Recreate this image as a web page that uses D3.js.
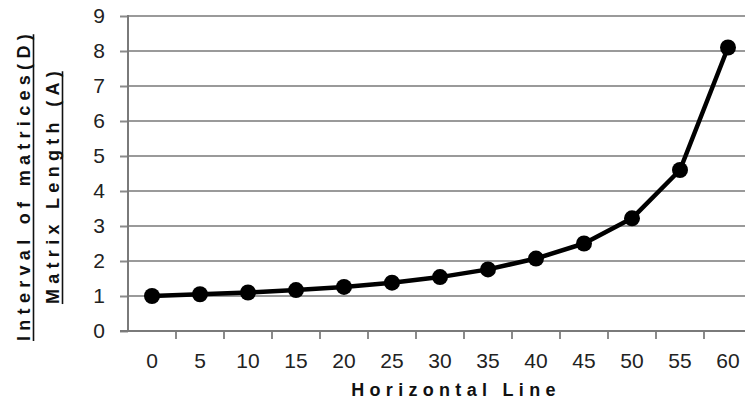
<!DOCTYPE html>
<html>
<head>
<meta charset="utf-8">
<script src="https://cdn.jsdelivr.net/npm/d3@7"></script>
<style>
  body { margin: 0; background: #fff; }
  svg { display: block; font-family: "Liberation Sans", Arial, sans-serif; }
</style>
</head>
<body>
<svg width="745" height="403"></svg>
<script>
// data
var categories = ["0", "5", "10", "15", "20", "25", "30", "35", "40", "45", "50", "55", "60"];
var values = [1.0, 1.05, 1.1, 1.17, 1.26, 1.38, 1.54, 1.76, 2.07, 2.5, 3.22, 4.6, 8.1];
var yTicks = [0, 1, 2, 3, 4, 5, 6, 7, 8, 9];

var svg = d3.select("svg");
var plotLeft = 128, plotRight = 752, plotTop = 16, plotBottom = 331;

var x = d3.scaleBand().domain(categories).range([plotLeft, plotRight]);
var y = d3.scaleLinear().domain([0, 9]).range([plotBottom, plotTop]);

// horizontal gridlines
svg.append("g")
  .selectAll("line")
  .data(yTicks.slice(1))
  .enter()
  .append("line")
  .attr("x1", plotLeft)
  .attr("x2", 745)
  .attr("y1", function(d) { return y(d); })
  .attr("y2", function(d) { return y(d); })
  .attr("stroke", "#9a9a9a")
  .attr("stroke-width", 2);

// y axis
var yAxis = svg.append("g")
  .attr("transform", "translate(" + plotLeft + ",0)")
  .call(d3.axisLeft(y).tickValues(yTicks).tickSize(8).tickPadding(15));
yAxis.select(".domain").remove();
yAxis.selectAll(".tick line").attr("stroke", "#8a8a8a").attr("stroke-width", 2);
yAxis.selectAll(".tick text")
  .attr("font-size", 21)
  .attr("fill", "#222")
  .attr("font-family", "Liberation Sans, Arial, sans-serif");

svg.append("line")
  .attr("x1", plotLeft).attr("x2", plotLeft)
  .attr("y1", plotTop - 1).attr("y2", plotBottom + 1)
  .attr("stroke", "#7a7a7a").attr("stroke-width", 2);

// x axis: labels centred on bands, ticks on band edges
var xAxis = svg.append("g")
  .attr("transform", "translate(0," + plotBottom + ")")
  .call(d3.axisBottom(x).tickSize(0).tickPadding(22));
xAxis.select(".domain").remove();
xAxis.selectAll(".tick text")
  .attr("font-size", 21)
  .attr("fill", "#222")
  .attr("font-family", "Liberation Sans, Arial, sans-serif");

svg.append("g")
  .selectAll("line")
  .data(categories)
  .enter()
  .append("line")
  .attr("x1", function(d) { return x(d) + x.bandwidth(); })
  .attr("x2", function(d) { return x(d) + x.bandwidth(); })
  .attr("y1", plotBottom)
  .attr("y2", plotBottom + 8)
  .attr("stroke", "#8a8a8a")
  .attr("stroke-width", 2);

svg.append("line")
  .attr("x1", plotLeft - 8).attr("x2", 745)
  .attr("y1", plotBottom).attr("y2", plotBottom)
  .attr("stroke", "#7a7a7a").attr("stroke-width", 2);

// the series
var cx = function(d, i) { return x(categories[i]) + x.bandwidth() / 2; };
var line = d3.line()
  .x(cx)
  .y(function(d) { return y(d); });

svg.append("path")
  .datum(values)
  .attr("d", line)
  .attr("fill", "none")
  .attr("stroke", "#000")
  .attr("stroke-width", 4.5)
  .attr("stroke-linejoin", "round");

svg.append("g")
  .selectAll("circle")
  .data(values)
  .enter()
  .append("circle")
  .attr("cx", cx)
  .attr("cy", function(d) { return y(d); })
  .attr("r", 8)
  .attr("fill", "#000");

// axis titles
svg.append("text")
  .attr("x", 456)
  .attr("y", 396)
  .attr("text-anchor", "middle")
  .attr("font-size", 18)
  .attr("font-weight", "bold")
  .attr("letter-spacing", "5.3px")
  .attr("fill", "#111")
  .text("Horizontal Line");

var titles = [
  { text: "Interval of matrices(D)", x: 30 },
  { text: "Matrix Length (A)", x: 59 }
];
titles.forEach(function(t) {
  var g = svg.append("g")
    .attr("transform", "translate(" + t.x + ",185) rotate(-90)");
  var tx = g.append("text")
    .attr("text-anchor", "middle")
    .attr("font-size", 18)
    .attr("font-weight", "bold")
    .attr("letter-spacing", "5.3px")
    .attr("fill", "#111")
    .text(t.text);
  var bb = tx.node().getBBox();
  g.append("line")
    .attr("x1", bb.x)
    .attr("x2", bb.x + bb.width - 5.3)
    .attr("y1", 3.5)
    .attr("y2", 3.5)
    .attr("stroke", "#111")
    .attr("stroke-width", 1.6);
});
</script>
</body>
</html>
